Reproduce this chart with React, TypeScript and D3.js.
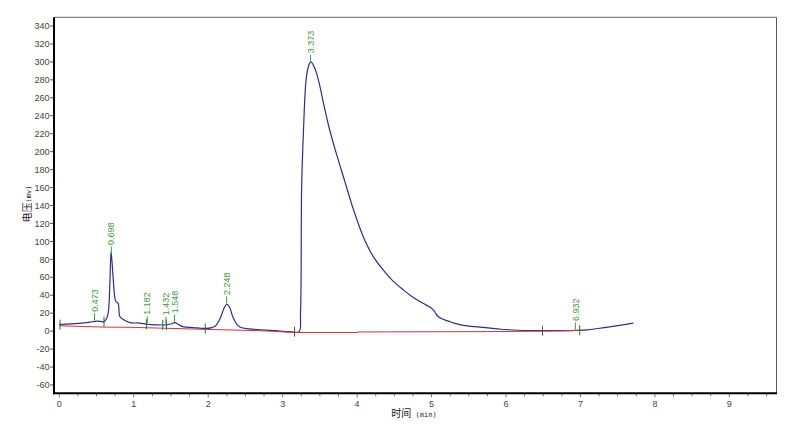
import React from "react";
import * as d3 from "d3";

const traceTime = [0.0, 0.02, 0.15, 0.3, 0.41, 0.48, 0.55, 0.6, 0.64, 0.66, 0.68, 0.695, 0.71, 0.725, 0.745, 0.76, 0.79, 0.815, 0.86, 0.95, 1.08, 1.17, 1.3, 1.43, 1.5, 1.555, 1.6, 1.66, 1.8, 1.96, 2.05, 2.1, 2.16, 2.21, 2.25, 2.29, 2.33, 2.38, 2.43, 2.55, 2.7, 2.9, 3.1, 3.22, 3.24, 3.255, 3.28, 3.315, 3.35, 3.38, 3.42, 3.457, 3.5, 3.546, 3.62, 3.703, 3.838, 3.949, 4.083, 4.218, 4.352, 4.48, 4.62, 4.73, 4.845, 4.93, 5.0, 5.04, 5.07, 5.13, 5.225, 5.3, 5.43, 5.65, 5.93, 6.16, 6.5, 6.94, 7.1, 7.32, 7.5, 7.71];
const traceValue = [7, 7.5, 8, 9, 10, 11, 11, 10.5, 15, 22, 55, 88, 75, 57, 38, 33, 31, 16, 13, 9.5, 9, 7.7, 7, 7, 8, 9.5, 7.5, 5, 4, 3, 4, 6, 14, 25, 30, 26, 16, 8, 4.3, 2.5, 1.5, 0.5, -0.5, -0.5, 20, 160, 224, 280, 296, 300, 295, 287, 273, 255, 228, 203, 166, 136, 105.3, 83, 68, 56, 46, 39, 33, 29, 25.5, 22, 18, 14, 11.2, 9, 6.5, 4.5, 2.1, 1, 0.5, 0.8, 1.5, 4, 6.2, 9];

const baseTime = [0.0, 0.6, 0.95, 1.17, 1.96, 2.7, 3.16, 4.0, 4.01, 5.75, 6.49, 6.75, 7.0];
const baseValue = [6, 4.5, 4.3, 3.8, 2, 0.5, -1.5, -1.5, -0.9, -0.5, 0, 0.3, 1];

const peakTimes = [0.473, 0.698, 1.182, 1.432, 1.548, 2.248, 3.373, 6.932];
const peakLabels = ["0.473", "0.698", "1.182", "1.432", "1.548", "2.248", "3.373", "6.932"];

const markerTimes = [0.01, 0.6, 1.17, 1.39, 1.44, 1.96, 3.16, 6.49, 6.99];

const yTicks = d3.range(-60, 341, 20);
const xTicks = d3.range(0, 10, 1);
const xMinorTicks = d3.range(0, 9.51, 0.25);

const W = 800;
const H = 436;

export default function App() {
  const x = d3.scaleLinear().domain([0, 9]).range([59.3, 729.35]);
  const y = d3.scaleLinear().domain([-60, 340]).range([385, 26]);
  const left = 54, right = 776.5, top = 17.3, bottom = 393.3;

  const trace = traceTime.map((t, i) => [t, traceValue[i]] as [number, number]);
  const base = baseTime.map((t, i) => [t, baseValue[i]] as [number, number]);

  const line = d3
    .line<[number, number]>()
    .x((d) => x(d[0]))
    .y((d) => y(d[1]))
    .curve(d3.curveCatmullRom.alpha(0.5));
  const baseLine = d3
    .line<[number, number]>()
    .x((d) => x(d[0]))
    .y((d) => y(d[1]));

  const interp = (t: number) => {
    const i = d3.bisector((d: [number, number]) => d[0]).left(trace, t);
    if (i <= 0) return trace[0][1];
    if (i >= trace.length) return trace[trace.length - 1][1];
    const a = trace[i - 1], b = trace[i];
    const f = (t - a[0]) / (b[0] - a[0]);
    return a[1] + f * (b[1] - a[1]);
  };

  const font = "'Liberation Sans', Arial, sans-serif";

  return (
    <svg
      width={W}
      height={H}
      style={{ position: "fixed", left: 0, top: 0, background: "#fff" }}
    >
      <rect x={0} y={0} width={W} height={H} fill="#fff" />
      {/* frame */}
      <line x1={left} x2={right} y1={top} y2={top} stroke="#666" strokeWidth={1} />
      <line x1={right} x2={right} y1={top} y2={bottom} stroke="#555" strokeWidth={1} />
      {/* y ticks */}
      {yTicks.map((v) => (
        <g key={"y" + v}>
          <line x1={left - 4} x2={left} y1={y(v)} y2={y(v)} stroke="#555" />
          <text
            x={left - 4.5}
            y={y(v)}
            dy="0.35em"
            textAnchor="end"
            fontSize={9}
            fontFamily={font}
            fill="#444"
          >
            {v}
          </text>
        </g>
      ))}
      {/* x ticks */}
      {xMinorTicks.map((t) => (
        <line
          key={"m" + t}
          x1={x(t)}
          x2={x(t)}
          y1={bottom}
          y2={bottom + (Number.isInteger(t) ? 4 : 3)}
          stroke="#777"
        />
      ))}
      {xTicks.map((t) => (
        <text
          key={"x" + t}
          x={x(t)}
          y={404}
          dy="0.35em"
          textAnchor="middle"
          fontSize={9}
          fontFamily={font}
          fill="#444"
        >
          {t}
        </text>
      ))}
      {/* axes */}
      <line x1={left} x2={left} y1={top} y2={bottom + 1} stroke="#000" strokeWidth={2} />
      <line x1={left - 1} x2={right + 0.5} y1={bottom} y2={bottom} stroke="#000" strokeWidth={2} />
      {/* axis titles */}
      <g transform={`translate(27,204) rotate(-90)`}>
        <text textAnchor="middle" dy="0.35em" fontSize={10} fill="#222">
          <tspan fontFamily="'Noto Sans CJK SC', sans-serif">电压</tspan>
          <tspan fontFamily="'DejaVu Sans Mono', monospace" fontSize={7}>(mv)</tspan>
        </text>
      </g>
      <text x={414} y={413} textAnchor="middle" dy="0.35em" fontSize={10} fill="#222">
        <tspan fontFamily="'Noto Sans CJK SC', sans-serif">时间</tspan>
        <tspan fontFamily="'DejaVu Sans Mono', monospace" fontSize={7}> (min)</tspan>
      </text>
      {/* trace */}
      <path d={line(trace) || ""} fill="none" stroke="#2d2d93" strokeWidth={1.2} />
      {/* baseline */}
      <path d={baseLine(base) || ""} fill="none" stroke="#d83434" strokeWidth={1} />
      {/* integration markers */}
      {markerTimes.map((t, i) => {
        const yy = y(interp(t));
        return (
          <line
            key={"k" + i}
            x1={x(t)}
            x2={x(t)}
            y1={yy - 5}
            y2={yy + 5}
            stroke="#2f6a2f"
            strokeWidth={1}
          />
        );
      })}
      {/* peak labels */}
      {peakTimes.map((t, i) => {
        const px = x(t);
        const py = y(interp(t));
        return (
          <g key={"p" + i}>
            <line x1={px} x2={px} y1={py - 1} y2={py - 8} stroke="#3d9a3d" strokeWidth={1} />
            <text
              transform={`translate(${px},${py - 9.5}) rotate(-90)`}
              dy="0.35em"
              textAnchor="start"
              fontSize={9}
              fontFamily={font}
              fill="#3d9a3d"
            >
              {peakLabels[i]}
            </text>
          </g>
        );
      })}
    </svg>
  );
}
